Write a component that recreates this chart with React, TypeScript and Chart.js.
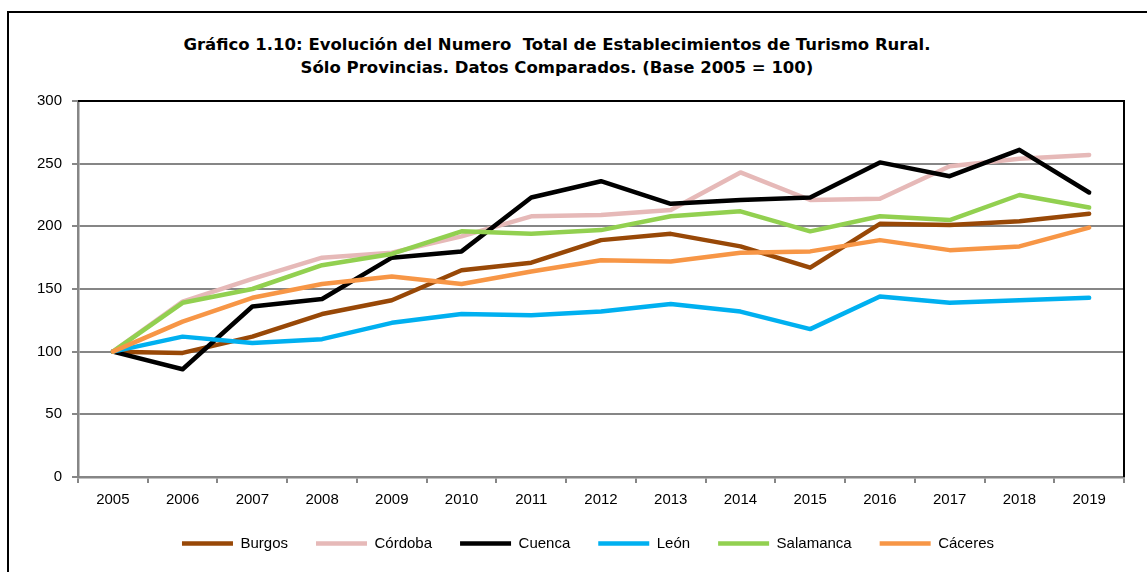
import React, { useEffect, useRef } from "react";
import { Chart, registerables } from "chart.js";

Chart.register(...registerables);

const TITLE_LINES = [
  "Gráfico 1.10: Evolución del Numero  Total de Establecimientos de Turismo Rural.",
  "Sólo Provincias. Datos Comparados. (Base 2005 = 100)",
];

const YEARS = ["2005", "2006", "2007", "2008", "2009", "2010", "2011", "2012", "2013", "2014", "2015", "2016", "2017", "2018", "2019"];

const BURGOS = [100, 99, 112, 130, 141, 165, 171, 189, 194, 184, 167, 202, 201, 204, 210];
const CORDOBA = [100, 140, 158, 175, 179, 192, 208, 209, 213, 243, 221, 222, 248, 254, 257];
const CUENCA = [100, 86, 136, 142, 175, 180, 223, 236, 218, 221, 223, 251, 240, 261, 227];
const LEON = [100, 112, 107, 110, 123, 130, 129, 132, 138, 132, 118, 144, 139, 141, 143];
const SALAMANCA = [100, 139, 150, 169, 178, 196, 194, 197, 208, 212, 196, 208, 205, 225, 215];
const CACERES = [100, 124, 143, 154, 160, 154, 164, 173, 172, 179, 180, 189, 181, 184, 199];

const SERIES_NAMES = ["Burgos", "Córdoba", "Cuenca", "León", "Salamanca", "Cáceres"];
const SERIES_VALUES = [BURGOS, CORDOBA, CUENCA, LEON, SALAMANCA, CACERES];
const SERIES_COLORS = ["#984807", "#E6B9B8", "#000000", "#00B0F0", "#92D050", "#F79646"];

const Y_MIN = 0;
const Y_MAX = 300;
const Y_STEP = 50;

const FONT = "'Liberation Sans', Arial, sans-serif";

const plotFrame = {
  id: "plotFrame",
  afterLayout(chart: any) {
    const lg = chart.legend;
    if (lg) {
      lg.left += 11;
      lg.right += 11;
    }
  },
  afterDatasetsDraw(chart: any) {
    const { ctx, chartArea } = chart;
    ctx.save();
    ctx.strokeStyle = "#000000";
    ctx.lineWidth = 2;
    ctx.beginPath();
    ctx.moveTo(chartArea.left, chartArea.top);
    ctx.lineTo(chartArea.right, chartArea.top);
    ctx.lineTo(chartArea.right, chartArea.bottom);
    ctx.stroke();
    ctx.restore();
  },
};

export default function App() {
  const canvasRef = useRef<HTMLCanvasElement | null>(null);

  useEffect(() => {
    if (!canvasRef.current) return;
    const chart = new Chart(canvasRef.current, {
      type: "line",
      data: {
        labels: YEARS,
        datasets: SERIES_NAMES.map((name, i) => ({
          label: name,
          data: SERIES_VALUES[i],
          borderColor: SERIES_COLORS[i],
          backgroundColor: SERIES_COLORS[i],
          borderWidth: 4.5,
          borderCapStyle: "round" as const,
          borderJoinStyle: "round" as const,
          pointRadius: 0,
          pointHoverRadius: 0,
          tension: 0,
          fill: false,
          order: SERIES_NAMES.length - i,
        })),
      },
      options: {
        animation: false,
        responsive: false,
        maintainAspectRatio: false,
        layout: { padding: { left: 30, right: 23, top: 101, bottom: 11 } },
        plugins: {
          title: { display: false },
          tooltip: { enabled: false },
          legend: {
            display: true,
            position: "bottom",
            labels: {
              usePointStyle: true,
              pointStyle: "line",
              pointStyleWidth: 51,
              boxHeight: 4,
              padding: 28,
              color: "#000000",
              font: { family: FONT, size: 15 },
              sort: (a: any, b: any) => a.datasetIndex - b.datasetIndex,
            },
          },
        },
        scales: {
          x: {
            type: "category",
            offset: true,
            grid: {
              display: true,
              offset: true,
              drawOnChartArea: false,
              drawTicks: true,
              tickLength: 6,
              color: "#868686",
              lineWidth: 2,
            },
            border: { display: true, color: "#868686", width: 2.5 },
            ticks: {
              color: "#000000",
              font: { family: FONT, size: 15 },
              padding: 8,
              maxRotation: 0,
              autoSkip: false,
            },
            afterFit: (scale: any) => {
              scale.height = 31;
            },
          },
          y: {
            min: Y_MIN,
            max: Y_MAX,
            grid: {
              display: true,
              color: "#868686",
              lineWidth: 2,
              drawTicks: true,
              tickLength: 6,
            },
            border: { display: true, color: "#868686", width: 2.5 },
            ticks: {
              stepSize: Y_STEP,
              color: "#000000",
              font: { family: FONT, size: 15 },
              padding: 10,
            },
            afterFit: (scale: any) => {
              scale.width = 48;
            },
          },
        },
      },
      plugins: [plotFrame],
    });
    return () => chart.destroy();
  }, []);

  return (
    <div style={{ position: "fixed", left: 0, top: 0, width: 1147, height: 572, overflow: "hidden", background: "#ffffff" }}>
      <div
        style={{
          position: "absolute",
          left: 7,
          top: 11,
          width: 1160,
          height: 600,
          borderLeft: "2px solid #000000",
          borderTop: "2px solid #000000",
        }}
      />
      <div
        style={{
          position: "absolute",
          left: 0,
          width: 1114,
          top: 33,
          textAlign: "center",
          fontFamily: "'DejaVu Sans', Verdana, sans-serif",
          fontWeight: "bold",
          fontSize: 16.5,
          lineHeight: "23px",
          color: "#000000",
        }}
      >
        {TITLE_LINES.map((t, i) => (
          <div key={i} style={{ whiteSpace: "pre" }}>{t}</div>
        ))}
      </div>
      <canvas ref={canvasRef} width={1147} height={572} style={{ position: "absolute", left: 0, top: 0 }} />
    </div>
  );
}
